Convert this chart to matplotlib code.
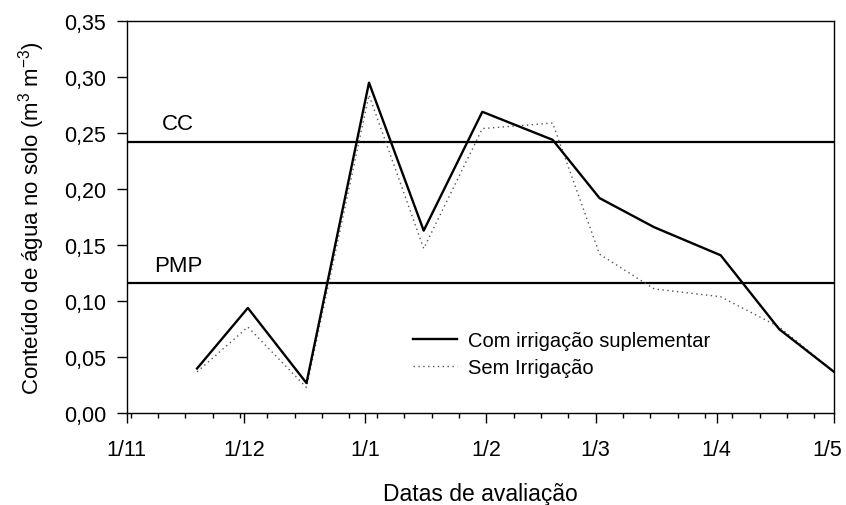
import matplotlib
matplotlib.use("Agg")
import matplotlib.pyplot as plt
import matplotlib.dates as mdates
from matplotlib.ticker import FuncFormatter
from matplotlib.transforms import ScaledTranslation
from datetime import date

plt.rcParams['font.family'] = ['Liberation Sans', 'DejaVu Sans']
plt.rcParams['mathtext.fontset'] = 'custom'
plt.rcParams['mathtext.rm'] = 'Liberation Sans'
plt.rcParams['mathtext.it'] = 'Liberation Sans'

# datas de avaliação (2008/2009)
datas = [date(2008, 11, 19), date(2008, 12, 2), date(2008, 12, 17), date(2009, 1, 2),
         date(2009, 1, 16), date(2009, 1, 31), date(2009, 2, 18), date(2009, 3, 2),
         date(2009, 3, 16), date(2009, 4, 2), date(2009, 4, 17), date(2009, 5, 1)]
com_irrig = [0.040, 0.094, 0.027, 0.295, 0.163, 0.269, 0.244, 0.192, 0.166, 0.141, 0.075, 0.037]
sem_irrig = [0.037, 0.077, 0.023, 0.284, 0.147, 0.254, 0.259, 0.142, 0.111, 0.104, 0.077, 0.037]

cc = 0.242
pmp = 0.116

yticks = [0.00, 0.05, 0.10, 0.15, 0.20, 0.25, 0.30, 0.35]

fig = plt.figure(figsize=(8.46, 5.06), dpi=100)
ax = fig.add_axes([0.1498, 0.1812, 0.8360, 0.7753])

ax.axhline(cc, color='black', lw=1.6)
ax.axhline(pmp, color='black', lw=1.6)

ax.plot(datas, sem_irrig, color='#555555', lw=1.0, linestyle=(0, (1, 2.5)), label='Sem Irrigação')
ax.plot(datas, com_irrig, color='black', lw=1.7, label='Com irrigação suplementar')

ax.text(date(2008, 11, 10), 0.254, 'CC', fontsize=16)
ax.text(date(2008, 11, 8), 0.127, 'PMP', fontsize=16)

ax.set_xlim(date(2008, 11, 1), date(2009, 5, 1))
ax.set_ylim(0, 0.35)
ax.set_yticks(yticks)
ax.yaxis.set_major_formatter(FuncFormatter(lambda v, p: f"{v:.2f}".replace('.', ',')))

ax.xaxis.set_major_locator(mdates.MonthLocator(bymonthday=1))
ax.xaxis.set_minor_locator(mdates.WeekdayLocator(byweekday=mdates.SU))
ax.xaxis.set_major_formatter(FuncFormatter(lambda v, p: f"{mdates.num2date(v).day}/{mdates.num2date(v).month}"))

ax.tick_params(axis='y', direction='out', length=7, width=1, labelsize=15.5, pad=8)
ax.tick_params(axis='x', which='major', direction='out', length=7.5, width=1, labelsize=15.5, pad=11)
ax.tick_params(axis='x', which='minor', direction='out', length=3.5, width=1)
for s in ax.spines.values():
    s.set_linewidth(1.0)

ax.set_xlabel('Datas de avaliação', fontsize=16.5, labelpad=16)
ax.set_ylabel(r'Conteúdo de água no solo (m$^3$ m$^{-3}$)', fontsize=16, labelpad=12)

handles, labels = ax.get_legend_handles_labels()
ax.legend(handles[::-1], labels[::-1], loc='upper left', bbox_to_anchor=(0.4045, 0.21),
          frameon=False, fontsize=14.5, handlelength=2.2, handletextpad=0.55,
          labelspacing=0.4, borderpad=0, borderaxespad=0)

# keep the last date label inside the figure
fig.canvas.draw()
last = ax.get_xticklabels()[-1]
last.set_transform(last.get_transform() + ScaledTranslation(-7 / 100, 0, fig.dpi_scale_trans))

fig.savefig('out.png', dpi=100)
